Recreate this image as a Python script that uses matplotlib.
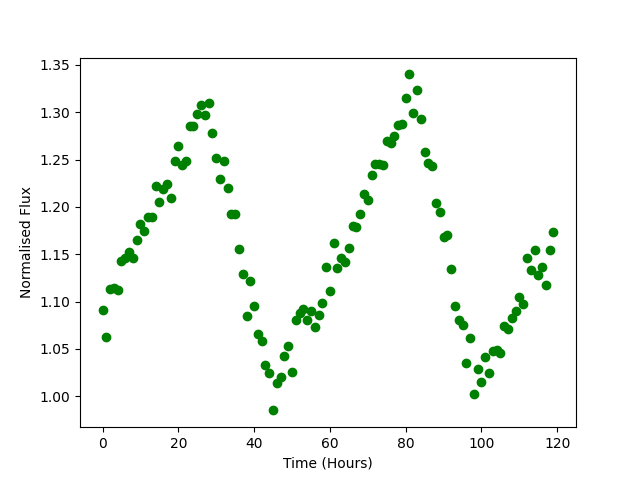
import matplotlib
matplotlib.use("Agg")
import matplotlib.pyplot as plt
import numpy as np

# hourly flux readings, t = 0..119
hours = np.arange(120)
flux = [
    1.091, 1.063, 1.113, 1.114, 1.112, 1.143, 1.146, 1.152, 1.146, 1.165,
    1.182, 1.175, 1.189, 1.189, 1.222, 1.205, 1.219, 1.224, 1.209, 1.249,
    1.264, 1.244, 1.248, 1.286, 1.286, 1.298, 1.308, 1.297, 1.310, 1.278,
    1.252, 1.229, 1.248, 1.220, 1.193, 1.193, 1.155, 1.129, 1.085, 1.122,
    1.095, 1.066, 1.058, 1.033, 1.024, 0.985, 1.014, 1.020, 1.043, 1.053,
    1.026, 1.081, 1.088, 1.092, 1.081, 1.090, 1.073, 1.086, 1.099, 1.137,
    1.111, 1.162, 1.135, 1.146, 1.142, 1.157, 1.180, 1.179, 1.192, 1.214,
    1.207, 1.234, 1.245, 1.245, 1.244, 1.270, 1.268, 1.275, 1.287, 1.288,
    1.315, 1.340, 1.299, 1.323, 1.293, 1.258, 1.246, 1.243, 1.204, 1.195,
    1.168, 1.170, 1.134, 1.095, 1.081, 1.075, 1.035, 1.061, 1.002, 1.029,
    1.015, 1.041, 1.024, 1.048, 1.049, 1.046, 1.074, 1.071, 1.083, 1.090,
    1.105, 1.097, 1.146, 1.133, 1.154, 1.128, 1.137, 1.118, 1.154, 1.174,
]

fig, ax = plt.subplots(figsize=(6.4, 4.8), dpi=100)
ax.plot(hours, flux, "go")
ax.set_xlabel("Time (Hours)")
ax.set_ylabel("Normalised Flux")
fig.savefig("out.png")
